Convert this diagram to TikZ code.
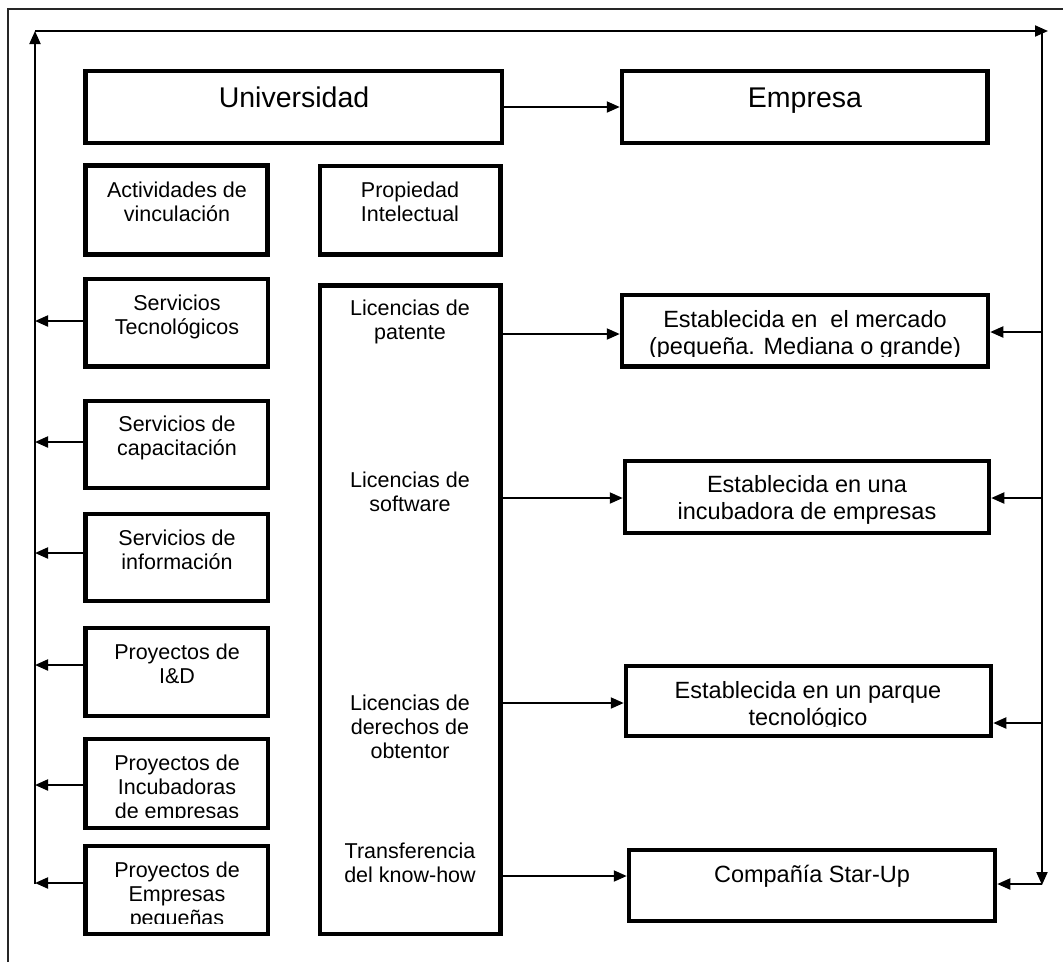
\documentclass[tikz,border=0pt]{standalone}
\usepackage{fontspec}
\setmainfont{Liberation Sans}
\usetikzlibrary{arrows.meta}
% multi-line centred text whose baseline is that of its first line
\newcommand\mlines[1]{\begin{tabular}[t]{@{}c@{}}#1\end{tabular}}
% \mkbox{name}{x1}{y1}{x2}{y2}: framed box between two corners
\newcommand\mkbox[5]{\node[box, minimum width={(#4)-(#2)}, minimum height={(#5)-(#3)}] (#1) at ({((#2)+(#4))/2},{((#3)+(#5))/2}) {};}
\begin{document}
\begin{tikzpicture}[x=1pt,y=-1pt,
  box/.style={draw, line width=4.5pt, inner sep=0pt},
  lbl/.style={inner sep=0pt, anchor=base, align=center},
  big/.style={lbl, font=\fontsize{28.5}{34}\selectfont},
  sm/.style={lbl, font=\fontsize{21.5}{24}\selectfont},
  rt/.style={lbl, font=\fontsize{23.5}{27}\selectfont},
  arr/.style={line width=2pt, -{Triangle[length=13pt,width=11pt]}},
  frame/.style={line width=1.5pt, black!85}]
\useasboundingbox (0,0) rectangle (1063,962);
\draw[frame] (8,962) -- (8,9) -- (1063,9);

% top row
\mkbox{univ}{85.5}{71}{502}{143}
\mkbox{emp}{622}{71}{987.5}{143}
\node[big] (tuniv) at (294,107) {Universidad};
\node[big] (temp) at (805,107) {Empresa};

% left column
\mkbox{act}{85.5}{165.5}{267.5}{254.5}
\mkbox{st}{85.5}{278.8}{267.8}{366.3}
\mkbox{cap}{85.5}{401}{267.8}{488}
\mkbox{info}{85.5}{514}{267.8}{601}
\mkbox{idd}{85.5}{628}{267.8}{716}
\mkbox{incb}{85.5}{739}{267.8}{828}
\mkbox{pemp}{85.5}{846}{267.8}{934}
\node[sm] (tact) at (177,197) {\mlines{Actividades de\\vinculación}};
\node[sm] (tst) at (177,310) {\mlines{Servicios\\Tecnológicos}};
\node[sm] (tcap) at (177,431) {\mlines{Servicios de\\capacitación}};
\node[sm] (tinfo) at (177,545) {\mlines{Servicios de\\información}};
\node[sm] (tidd) at (177,659) {\mlines{Proyectos de\\I\&D}};
\begin{scope}
  \clip (90,742) rectangle (264,817);
  \node[sm] (tincb) at (177,770) {\mlines{Proyectos de\\Incubadoras\\de empresas}};
\end{scope}
\begin{scope}
  \clip (90,849) rectangle (264,923);
  \node[sm] (tpemp) at (177,877) {\mlines{Proyectos de\\Empresas\\pequeñas}};
\end{scope}

% middle column
\mkbox{prop}{320}{166}{500.5}{254.5}
\mkbox{lic}{320}{285.5}{500.5}{934}
\node[sm] (tprop) at (410,197) {\mlines{Propiedad\\Intelectual}};
\node[sm] (tpat) at (410,315) {\mlines{Licencias de\\patente}};
\node[sm] (tsoft) at (410,487) {\mlines{Licencias de\\software}};
\node[sm] (tobt) at (410,710) {\mlines{Licencias de\\derechos de\\obtentor}};
\node[sm] (tkh) at (410,858) {\mlines{Transferencia\\del know-how}};

% right column
\mkbox{merc}{622}{295}{988}{366.7}
\mkbox{incu}{625}{461}{989}{533}
\mkbox{parq}{626}{666}{991}{736}
\mkbox{star}{629}{850}{995}{921}
\begin{scope}
  \clip (626,298) rectangle (984,356);
  \node[rt] (tmerc) at (805,327) {\mlines{Establecida en \ el mercado\\(pequeña. Mediana o grande)}};
\end{scope}
\node[rt] (tincu) at (807,492) {\mlines{Establecida en una\\incubadora de empresas}};
\begin{scope}
  \clip (630,669) rectangle (987,726);
  \node[rt] (tparq) at (808,698) {\mlines{Establecida en un parque\\tecnológico}};
\end{scope}
\node[rt] (tstar) at (812,882) {Compañía Star-Up};

% feedback loop
\coordinate (lb) at (35,884);
\coordinate (lt) at (35,31);
\coordinate (rt) at (1048,31);
\coordinate (rtop) at (1042,31);
\coordinate (rb) at (1042,885);
\draw[arr] (lb) -- (lt);
\draw[arr] (lt) -- (rt);
\draw[arr] (rtop) -- (rb);

% left column feeds the loop
\foreach \b/\y in {st/321, cap/442, info/553, idd/665, incb/785, pemp/883}
  \draw[arr] (\b.west |- 0,\y) -- (lt |- 0,\y);

% loop feeds the companies
\foreach \b/\y in {merc/332, incu/498, parq/723, star/884}
  \draw[arr] (rtop |- 0,\y) -- (\b.east |- 0,\y);

% university to company
\draw[arr] (univ.east) -- (emp.west);
\draw[arr] (lic.east |- 0,334) -- (merc.west |- 0,334);
\draw[arr] (lic.east |- 0,498) -- (incu.west |- 0,498);
\draw[arr] (lic.east |- 0,703) -- (parq.west |- 0,703);
\draw[arr] (lic.east |- 0,876) -- (star.west |- 0,876);
\end{tikzpicture}
\end{document}
